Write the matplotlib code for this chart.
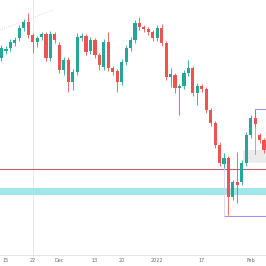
import numpy as np
import matplotlib
matplotlib.use("Agg")
import matplotlib.pyplot as plt

### Data (price units are arbitrary, chart has no price scale)

opens = [196, 203, 206, 211, 216, 226, 232, 219, 212, 217,
         220, 196, 220, 209, 184, 194, 172, 182, 216, 218,
         203, 214, 199, 187, 212, 186, 183, 172, 192, 206,
         214, 231, 227, 225, 222, 216, 226, 211, 177, 179,
         166, 168, 181, 186, 161, 168, 165, 144, 131, 109,
         90, 96, 57, 72, 72, 91, 119, 136, 119, 114]
closes = [206, 205, 212, 214, 226, 232, 219, 212, 216, 220,
          196, 220, 214, 184, 194, 172, 182, 217, 218, 202,
          214, 199, 189, 212, 186, 182, 172, 192, 206, 214,
          231, 227, 225, 222, 216, 226, 211, 177, 180, 166,
          168, 181, 186, 161, 168, 165, 144, 131, 109, 91,
          96, 57, 72, 69, 91, 119, 136, 130, 114, 104]
highs = [209, 208, 215, 217, 229, 235, 241, 221, 218, 222,
         222, 223, 222, 212, 197, 197, 185, 221, 221, 220,
         217, 216, 201, 215, 222, 188, 185, 195, 209, 217,
         234, 237, 229, 227, 224, 229, 230, 213, 186, 181,
         170, 184, 194, 188, 171, 170, 167, 146, 133, 112,
         101, 98, 74, 102, 94, 122, 139, 144, 121, 116]
lows = [193, 200, 203, 208, 213, 223, 216, 201, 207, 214,
        193, 193, 211, 181, 179, 162, 164, 179, 213, 199,
        200, 196, 184, 184, 183, 179, 162, 169, 189, 203,
        211, 224, 222, 219, 213, 213, 208, 174, 167, 161,
        139, 165, 178, 158, 149, 162, 141, 128, 106, 88,
        86, 39, 54, 51, 69, 88, 116, 127, 111, 101]

tick_pos = [1, 7, 13, 21, 27, 35, 45, 56]
tick_labels = ["15", "22", "Dec", "13", "20", "2022", "17", "Feb"]

# drawings on the chart
red_level = 85
cyan_zone = (59, 66)
low_box_x, low_box_y = 50, 38          # left edge index, level of lower box line
high_box_x, high_box_y = 57, 145       # left edge index, level of upper box line
grey_zone_x, grey_zone = 54.3, (91, 104)
trend_x = [-0.34, 5.7, 11.6]
trend_y = [224, 234, 244]
vline_x = 7

up_col = "#26a69a"
down_col = "#ef5350"

fig = plt.figure(figsize=(2.66, 2.66), dpi=100)
ax = fig.add_axes([0, 11 / 266, 1, 255 / 266])

x = np.arange(len(opens))
o = np.array(opens)
c = np.array(closes)
colors = np.where(c >= o, up_col, down_col)

# background drawings first
ax.axhspan(cyan_zone[0], cyan_zone[1], color="#a2e6ec", lw=0, zorder=1)
ax.axhline(red_level, color="#b8646b", lw=0.8, zorder=1)
ax.axvline(vline_x, color="#e6e6e6", lw=0.6, zorder=0)
ax.fill_between([grey_zone_x, 60], grey_zone[0], grey_zone[1],
                color="#ebebeb", lw=0, zorder=1)
ax.plot(trend_x, trend_y, color="#cccccc", lw=0.6, ls=":", zorder=1)

ax.plot([low_box_x, 60], [low_box_y, low_box_y], color="#a195e0", lw=0.8, zorder=1)
ax.plot([low_box_x, low_box_x], [low_box_y, 101], color="#d8d4f0", lw=0.6, zorder=1)
ax.plot([high_box_x, 60], [high_box_y, high_box_y], color="#a195e0", lw=0.8, zorder=1)
ax.plot([high_box_x, high_box_x], [high_box_y, 100], color="#a195e0", lw=0.6, zorder=1)

# candles
ax.vlines(x, lows, highs, colors=colors, lw=0.6, zorder=2)
ax.bar(x, np.abs(c - o), bottom=np.minimum(o, c), width=0.7,
       color=colors, lw=0, zorder=3)

ax.set_xlim(-0.337, 59.44)
ax.set_ylim(-1, 254)
ax.set_xticks(tick_pos)
ax.set_xticklabels(tick_labels)
ax.tick_params(axis="x", length=0, labelsize=3.5, labelcolor="#6a6d78", pad=2)
ax.set_yticks([])
for side in ["top", "left", "right"]:
   ax.spines[side].set_visible(False)
ax.spines["bottom"].set_color("#e0e0e0")
ax.spines["bottom"].set_linewidth(0.6)

fig.savefig("out.png", dpi=100)
